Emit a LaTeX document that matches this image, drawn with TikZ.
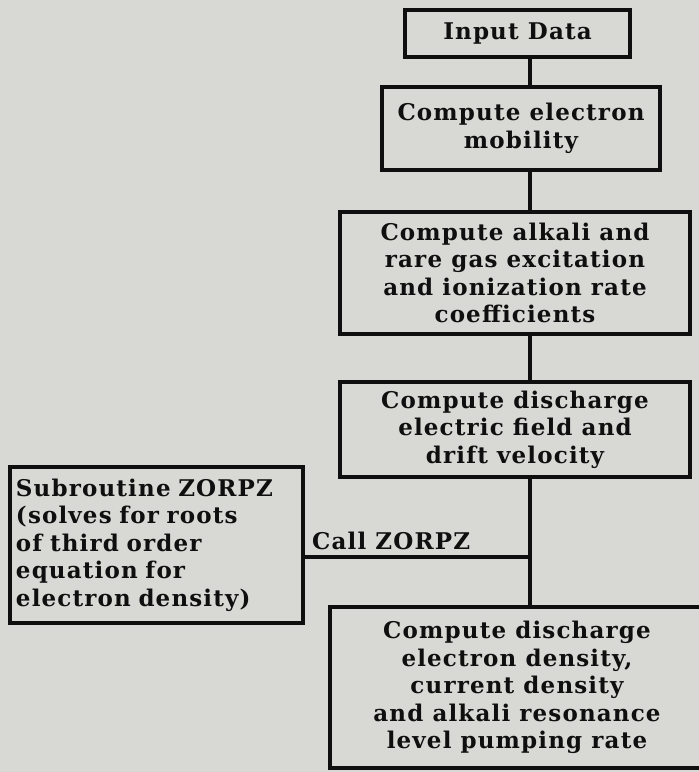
\documentclass[tikz,border=0pt]{standalone}
\usepackage{fontspec}
\setmainfont{DejaVu Serif}[LetterSpace=5]
\definecolor{paper}{RGB}{216,216,212}
\definecolor{ink}{RGB}{15,15,15}
\tikzset{
  flowbox/.style={draw=ink, line width=3.2pt, align=center, inner sep=0pt,
    font=\fontsize{23}{27.5}\selectfont\bfseries, text=ink},
  link/.style={draw=ink, line width=3.2pt},
}
\begin{document}
\begin{tikzpicture}[x=1pt,y=-1pt]
\fill[paper] (0,0) rectangle (699,772);
\useasboundingbox (0,0) rectangle (699,772);
\coordinate (sp) at (530,0);
\node[flowbox, minimum width=225pt, minimum height=47pt] (in) at (517.5,33.5) {Input Data};
\node[flowbox, minimum width=278pt, minimum height=83pt] (mob) at (521,128.5) {Compute electron\\mobility};
\node[flowbox, minimum width=350pt, minimum height=122pt] (rate) at (515,273) {Compute alkali and\\rare gas excitation\\and ionization rate\\coefficients};
\node[flowbox, minimum width=350pt, minimum height=95pt] (field) at (515,429.5) {Compute discharge\\electric field and\\drift velocity};
\node[flowbox, minimum width=293pt, minimum height=156pt, align=left, text width=281pt] (zorpz) at (156.5,545) {Subroutine ZORPZ\\(solves for roots\\of third order\\equation for\\electron density)};
\node[flowbox, minimum width=374pt, minimum height=161pt] (dens) at (517,687.5) {Compute discharge\\electron density,\\current density\\and alkali resonance\\level pumping rate};
\coordinate (j) at (530,557);
\draw[link] (in.south -| sp) -- (mob.north -| sp);
\draw[link] (mob.south -| sp) -- (rate.north -| sp);
\draw[link] (rate.south -| sp) -- (field.north -| sp);
\draw[link] (field.south -| sp) -- (dens.north -| sp);
\draw[link] (zorpz.east |- j) -- (j);
\node[anchor=base west, inner sep=0pt, font=\fontsize{23}{27.5}\selectfont\bfseries, text=ink] (call) at (312,549) {Call ZORPZ};
\end{tikzpicture}
\end{document}
